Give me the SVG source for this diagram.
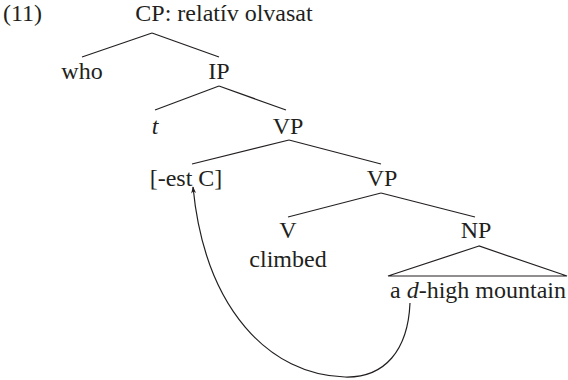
<svg xmlns="http://www.w3.org/2000/svg" width="568" height="380" viewBox="0 0 568 380">
<style>
text{font-family:"Liberation Serif","DejaVu Serif",serif;font-size:24px;fill:#231f20}
.m{text-anchor:middle}
.e{stroke:#231f20;stroke-width:1.2;fill:none}
</style>
<defs>
<marker id="ah" viewBox="0 0 10 10" refX="9" refY="5" markerWidth="9" markerHeight="7" orient="auto-start-reverse" markerUnits="userSpaceOnUse">
<path d="M0,1.5 L10,5 L0,8.5 L3,5 Z" fill="#231f20"/>
</marker>
</defs>
<rect width="568" height="380" fill="#fff"/>
<text x="3" y="21">(11)</text>
<g id="edges">
<line class="e" x1="152" y1="33" x2="82" y2="57"/>
<line class="e" x1="152" y1="33" x2="219" y2="57"/>
<line class="e" x1="219" y1="86" x2="155" y2="110"/>
<line class="e" x1="219" y1="86" x2="286" y2="110"/>
<line class="e" x1="289" y1="140" x2="192" y2="164"/>
<line class="e" x1="289" y1="140" x2="381" y2="164"/>
<line class="e" x1="381" y1="193" x2="288" y2="217"/>
<line class="e" x1="381" y1="193" x2="475" y2="217"/>
<path class="e" d="M479,246 L388,276 L567,276 Z"/>
<path class="e" d="M410,303 C408,350 385,378 345,377 C270,375 205,310 193,187" marker-end="url(#ah)"/>
</g>
<g id="cp"><text class="m" x="224" y="21">CP: relatív olvasat</text></g>
<g id="who"><text class="m" x="82" y="79">who</text></g>
<g id="ip"><text class="m" x="219" y="79">IP</text></g>
<g id="t"><text class="m" x="155" y="134" font-style="italic">t</text></g>
<g id="vp1"><text class="m" x="288" y="134">VP</text></g>
<g id="estc"><text class="m" x="186" y="186">[-est C]</text></g>
<g id="vp2"><text class="m" x="382" y="186">VP</text></g>
<g id="v"><text class="m" x="288" y="238">V</text><text class="m" x="288" y="267">climbed</text></g>
<g id="np"><text class="m" x="476" y="238">NP</text></g>
<g id="mountain"><text class="m" x="478" y="298">a <tspan font-style="italic">d</tspan>-high mountain</text></g>
</svg>
